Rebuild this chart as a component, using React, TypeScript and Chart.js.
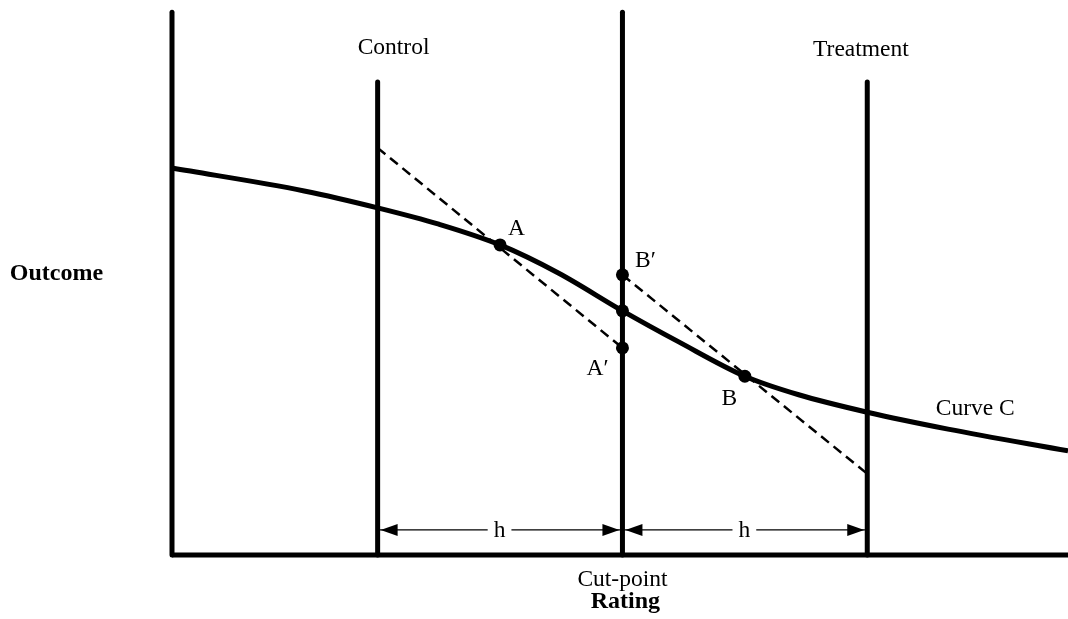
import React, { useEffect, useRef } from "react";
import { Chart, registerables } from "chart.js";

Chart.register(...registerables);

// Curve C (rating, outcome)
const curveX = [-1.84, -1.3, -1.0, -0.75, -0.5, -0.26, 0, 0.23, 0.5, 0.72, 1.0, 1.33, 1.82];
const curveY = [71.0, 66.8, 63.7, 60.7, 56.9, 51.7, 44.8, 39.1, 32.8, 29.4, 26.2, 23.1, 19.1];

// Marked points: A, curve at cut-point, A', B', B
const pointX = [-0.5, 0, 0, 0, 0.5];
const pointY = [56.9, 44.8, 38.0, 51.4, 32.8];

// Dashed regression lines
const dashControlX = [-1, 0];
const dashControlY = [74.7, 38.0];
const dashTreatX = [0, 1];
const dashTreatY = [51.4, 14.9];

// Vertical lines: y-axis, control, cut-point, treatment
const verticalX = [-1.84, -1, 0, 1];
const verticalTop = [99.6, 86.8, 99.6, 86.8];

// Horizontal axis
const axisX = [-1.84, 1.82];
const axisY = [0, 0];

// Bandwidth arrows
const arrowY = 4.6;
const arrowStart = [-1, 0];
const arrowEnd = [0, 1];

// Text labels
const labelTexts = ["Control", "Treatment", "Outcome", "Cut-point", "Rating", "Curve C", "A", "B", "B\u2032", "A\u2032", "h", "h"];
const labelX = [-0.935, 0.974, -2.312, 0, 0.012, 1.441, -0.433, 0.437, 0.094, -0.102, -0.502, 0.498];
const labelY = [91.9, 91.6, 50.5, -5.7, -9.7, 25.7, 58.7, 27.5, 52.8, 33.0, 3.3, 3.3];
const labelBold = [false, false, true, false, true, false, false, false, false, false, false, false];
const labelBg = [false, false, false, false, false, false, false, false, false, false, true, true];

const overlayPlugin = {
  id: "overlay",
  afterDatasetsDraw(chart: any) {
    const { ctx, scales } = chart;
    const xs = scales.x;
    const ys = scales.y;
    ctx.save();
    // arrowheads
    ctx.fillStyle = "#000";
    const ay = ys.getPixelForValue(arrowY);
    const head = (tip: number, dir: number) => {
      ctx.beginPath();
      ctx.moveTo(tip, ay);
      ctx.lineTo(tip - dir * 17, ay - 6);
      ctx.lineTo(tip - dir * 17, ay + 6);
      ctx.closePath();
      ctx.fill();
    };
    for (let i = 0; i < arrowStart.length; i++) {
      head(xs.getPixelForValue(arrowStart[i]) + 3, -1);
      head(xs.getPixelForValue(arrowEnd[i]) - 3, 1);
    }
    // labels
    ctx.textAlign = "center";
    ctx.textBaseline = "alphabetic";
    for (let i = 0; i < labelTexts.length; i++) {
      const px = xs.getPixelForValue(labelX[i]);
      const py = ys.getPixelForValue(labelY[i]);
      ctx.font = labelBold[i] ? 'bold 24px "Liberation Serif"' : '23.5px "Liberation Serif"';
      if (labelBg[i]) {
        const w = ctx.measureText(labelTexts[i]).width;
        ctx.fillStyle = "#fff";
        ctx.fillRect(px - w / 2 - 6, py - 18, w + 12, 24);
      }
      ctx.fillStyle = "#000";
      ctx.fillText(labelTexts[i], px, py);
    }
    ctx.restore();
  },
};

export default function App() {
  const ref = useRef<HTMLCanvasElement>(null);

  useEffect(() => {
    if (!ref.current) return;
    const lineDs = (xsArr: number[], ysArr: number[], extra: any = {}) => ({
      type: "line",
      data: xsArr.map((x, i) => ({ x, y: ysArr[i] })),
      borderColor: "#000",
      backgroundColor: "#000",
      borderWidth: 5,
      pointRadius: 0,
      fill: false,
      clip: false,
      showLine: true,
      ...extra,
    });

    const datasets: any[] = [];
    verticalX.forEach((vx, i) => {
      datasets.push(lineDs([vx, vx], [0, verticalTop[i]], { borderCapStyle: "round" }));
    });
    datasets.push(lineDs(axisX, axisY, { borderCapStyle: "butt" }));
    for (let i = 0; i < arrowStart.length; i++) {
      datasets.push(lineDs([arrowStart[i], arrowEnd[i]], [arrowY, arrowY], { borderWidth: 1.2 }));
    }
    datasets.push(lineDs(dashControlX, dashControlY, { borderWidth: 2.5, borderDash: [10, 6] }));
    datasets.push(lineDs(dashTreatX, dashTreatY, { borderWidth: 2.5, borderDash: [10, 6] }));
    datasets.push(
      lineDs(curveX, curveY, { borderWidth: 5, cubicInterpolationMode: "monotone", borderJoinStyle: "round" })
    );
    datasets.push({
      type: "scatter",
      data: pointX.map((x, i) => ({ x, y: pointY[i] })),
      backgroundColor: "#000",
      borderColor: "#000",
      pointRadius: 6.5,
      borderWidth: 0,
      clip: false,
    });

    const chart = new Chart(ref.current, {
      type: "scatter",
      data: { datasets },
      options: {
        animation: false,
        responsive: false,
        devicePixelRatio: 1,
        layout: { autoPadding: false, padding: { left: 172, right: 0, top: 10, bottom: 64 } },
        plugins: { legend: { display: false }, tooltip: { enabled: false } },
        events: [],
        scales: {
          x: { type: "linear", min: -1.84, max: 1.82, display: false },
          y: { type: "linear", min: 0, max: 100, display: false },
        },
      },
      plugins: [overlayPlugin],
    } as any);
    return () => chart.destroy();
  }, []);

  return (
    <div style={{ position: "absolute", left: 0, top: 0, width: 1068, height: 619, background: "#fff" }}>
      <canvas ref={ref} width={1068} height={619} style={{ display: "block" }} />
    </div>
  );
}
